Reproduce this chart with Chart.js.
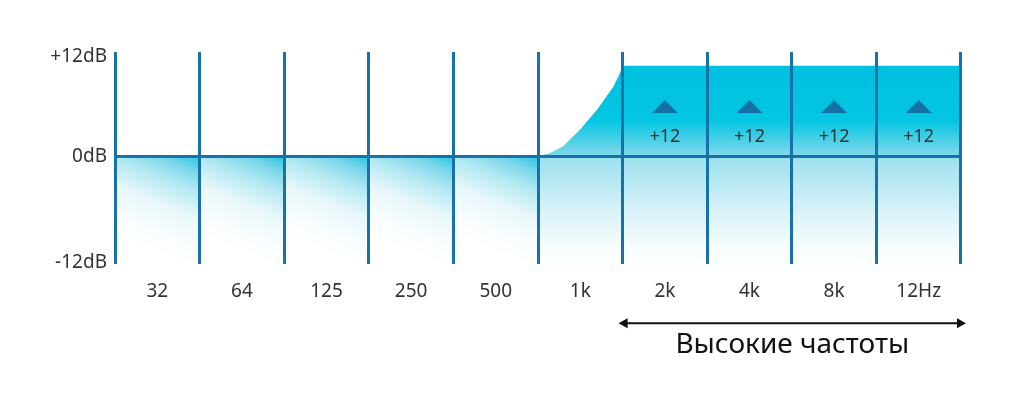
<!DOCTYPE html>
<html lang="ru">
<head>
    <meta charset="UTF-8">
    <title>EQ</title>
    <script src="https://cdn.jsdelivr.net/npm/chart.js@4.4.1/dist/chart.umd.min.js"></script>
    <style>
        html, body { margin: 0; padding: 0; background: #fff; }
        #wrap { width: 1023px; height: 393px; }
    </style>
</head>
<body>
    <div id="wrap"><canvas id="eq"></canvas></div>
    <script>
        // bands and gain per band
        var bandLabels = ['32', '64', '125', '250', '500', '1k', '2k', '4k', '8k', '12Hz'];
        var bandGain = [0, 0, 0, 0, 0, 0, 12, 12, 12, 12];
        var gainText = ['', '', '', '', '', '', '+12', '+12', '+12', '+12'];

        // response curve (x = band edge index, y = dB)
        var curveX = [0, 5, 5.15, 5.3, 5.5, 5.7, 5.8, 5.89, 5.96, 6, 10];
        var curveY = [0, 0, 0.5, 1.4, 3.6, 6.2, 7.8, 9.2, 10.8, 12, 12];

        var yTickValues = [13.2, 0, -14];
        var yTickLabels = ['+12dB', '0dB', '-12dB'];
        var markerLevel = 6.6;
        var bottomCaption = 'Высокие частоты';

        var blue = '#1672a8';
        var fontName = '"Noto Sans", "Open Sans", sans-serif';

        // triangle marker image
        var tri = document.createElement('canvas');
        tri.width = 26; tri.height = 13;
        var tctx = tri.getContext('2d');
        tctx.fillStyle = '#1470a5';
        tctx.beginPath();
        tctx.moveTo(13, 0); tctx.lineTo(26, 13); tctx.lineTo(0, 13);
        tctx.closePath(); tctx.fill();

        function lowerFill(context) {
            var chart = context.chart;
            var area = chart.chartArea;
            if (!area) return 'rgba(0,0,0,0)';
            var xs = chart.scales.x;
            var ys = chart.scales.y;
            var i = context.dataIndex;
            var w = (area.right - area.left) / bandLabels.length;
            var cx = xs.getPixelForValue(i);
            var top = ys.getPixelForValue(0);
            var g;
            if (i < 5) {
                // tilted: brightest at the top right corner
                g = chart.ctx.createLinearGradient(cx + w / 2, top, cx + w / 2 - 40, top + 100);
                g.addColorStop(0, '#22c6e2');
                g.addColorStop(0.14, '#7ad6ea');
                g.addColorStop(0.3, '#b0e8f2');
                g.addColorStop(0.55, '#eaf8fb');
                g.addColorStop(0.8, '#f9fdfe');
                g.addColorStop(1, '#ffffff');
            } else {
                g = chart.ctx.createLinearGradient(0, top, 0, area.bottom);
                g.addColorStop(0, '#9be0ee');
                g.addColorStop(0.5, '#d8f2f8');
                g.addColorStop(0.85, '#f8fdfe');
                g.addColorStop(1, '#ffffff');
            }
            return g;
        }

        function upperFill(context) {
            var chart = context.chart;
            var area = chart.chartArea;
            if (!area) return '#00c2e0';
            var ys = chart.scales.y;
            var t = ys.getPixelForValue(12);
            var z = ys.getPixelForValue(0);
            var g = chart.ctx.createLinearGradient(0, t, 0, z);
            g.addColorStop(0, '#00c0df');
            g.addColorStop(0.6, '#03c6e2');
            g.addColorStop(1, '#84d8eb');
            return g;
        }

        var labelPlugin = {
            id: 'labelPlugin',
            afterDraw: function (chart) {
                var c = chart.ctx;
                var xs = chart.scales.x;
                var ys = chart.scales.y;
                var area = chart.chartArea;
                c.save();
                c.fillStyle = '#333';
                c.font = '18px ' + fontName;
                c.textAlign = 'center';
                c.textBaseline = 'middle';
                gainText.forEach(function (t, i) {
                    if (t) c.fillText(t, xs.getPixelForValue(i), ys.getPixelForValue(markerLevel) + 30);
                });

                // arrow under the high bands
                var w = (area.right - area.left) / bandLabels.length;
                var x1 = xs.getPixelForValue(6) - w / 2 - 4;
                var x2 = area.right + 5;
                var y = area.bottom + 59;
                c.strokeStyle = '#111';
                c.fillStyle = '#111';
                c.lineWidth = 2;
                c.beginPath();
                c.moveTo(x1 + 4, y); c.lineTo(x2 - 4, y);
                c.stroke();
                c.beginPath();
                c.moveTo(x1, y); c.lineTo(x1 + 9, y - 5); c.lineTo(x1 + 9, y + 5); c.closePath(); c.fill();
                c.beginPath();
                c.moveTo(x2, y); c.lineTo(x2 - 9, y - 5); c.lineTo(x2 - 9, y + 5); c.closePath(); c.fill();

                c.font = '28px ' + fontName;
                c.fillText(bottomCaption, (x1 + x2) / 2, y + 22);
                c.restore();
            }
        };

        var curveData = curveX.map(function (x, i) { return { x: x, y: curveY[i] }; });

        var eqChart = new Chart(document.getElementById('eq'), {
            type: 'bar',
            data: {
                labels: bandLabels,
                datasets: [{
                    type: 'line',
                    xAxisID: 'xl',
                    data: curveData,
                    borderWidth: 0,
                    borderColor: 'rgba(0,0,0,0)',
                    backgroundColor: upperFill,
                    fill: 'origin',
                    tension: 0,
                    pointRadius: 0,
                    order: 3
                }, {
                    type: 'bar',
                    data: bandLabels.map(function () { return [0, -14.2]; }),
                    backgroundColor: lowerFill,
                    borderWidth: 0,
                    grouped: false,
                    barPercentage: 1,
                    categoryPercentage: 1,
                    order: 4
                }, {
                    type: 'line',
                    xAxisID: 'xl',
                    data: [{ x: 0, y: 0 }, { x: 10, y: 0 }],
                    borderColor: blue,
                    borderWidth: 3,
                    pointRadius: 0,
                    fill: false,
                    order: 2
                }, {
                    type: 'line',
                    data: bandGain.map(function (g) { return g > 0 ? markerLevel : null; }),
                    showLine: false,
                    pointStyle: tri,
                    pointRadius: 10,
                    order: 1
                }]
            },
            options: {
                responsive: true,
                maintainAspectRatio: false,
                animation: false,
                layout: { padding: { top: 52, right: 62, bottom: 74, left: 0 } },
                plugins: { legend: { display: false }, tooltip: { enabled: false } },
                scales: {
                    x: {
                        type: 'category',
                        offset: true,
                        grid: { offset: true, color: blue, lineWidth: 3, drawTicks: false, z: 1 },
                        border: { display: false },
                        ticks: { color: '#333', font: { size: 19, family: fontName }, padding: 16 }
                    },
                    xl: { type: 'linear', min: 0, max: 10, offset: false, grid: { offset: false }, display: false },
                    y: {
                        min: -14.2,
                        max: 13.8,
                        grid: { display: false, drawTicks: false },
                        border: { display: false },
                        afterBuildTicks: function (scale) {
                            scale.ticks = yTickValues.map(function (v) { return { value: v }; });
                        },
                        afterFit: function (scale) { scale.width = 115; },
                        ticks: {
                            color: '#333',
                            padding: 8,
                            font: { size: 19, family: fontName },
                            callback: function (v, i) { return yTickLabels[i]; }
                        }
                    }
                }
            },
            plugins: [labelPlugin]
        });
    </script>
</body>
</html>
